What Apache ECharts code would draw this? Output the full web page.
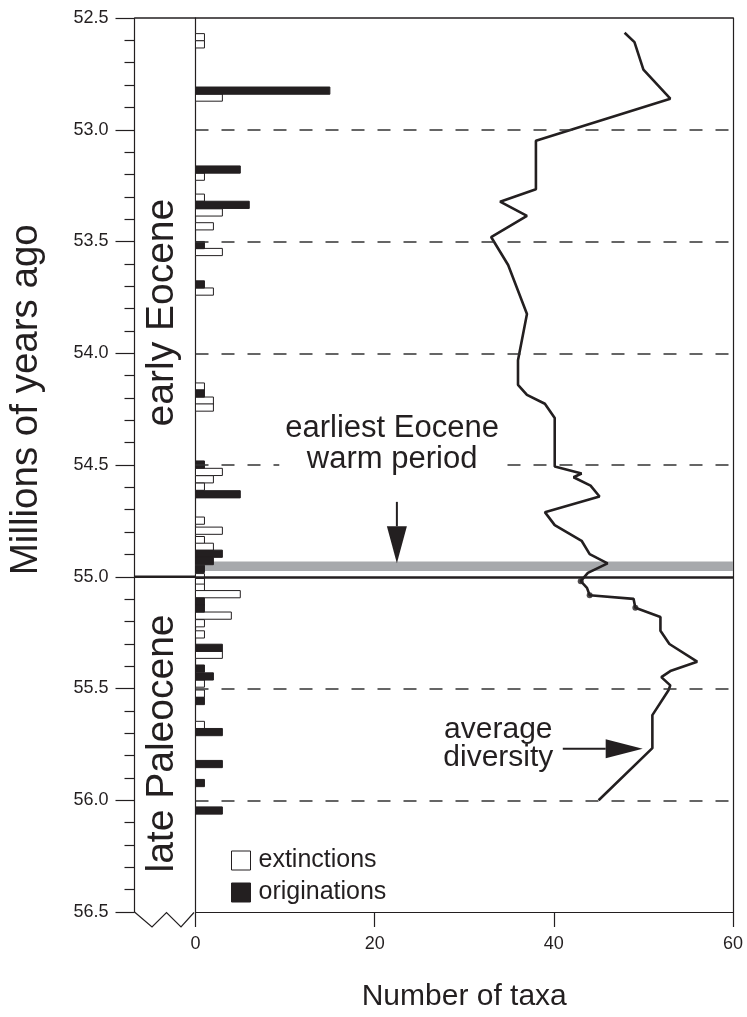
<!DOCTYPE html>
<html><head><meta charset="utf-8">
<script src="https://cdn.jsdelivr.net/npm/echarts@6/dist/echarts.min.js"></script>
<style>html,body{margin:0;padding:0;background:#fff}#c{width:747px;height:1017px}</style>
</head><body><div id="c"></div>
<script>
// ---- data (Myr ago, number of taxa) ----
const extTime  = [52.586,52.618,52.856,53.210,53.304,53.370,53.432,53.547,53.724,54.149,54.212,54.243,54.531,54.564,54.597,54.749,54.794,54.836,54.866,55.002,55.024,55.049,55.078,55.174,55.208,55.258,55.349,55.478,55.523,55.663];
const extCount = [1,1,3,1,1,3,2,3,2,1,2,2,3,2,1,1,3,1,2,1,1,1,5,4,1,1,3,1,1,1];
const origTime  = [52.825,53.178,53.336,53.516,53.692,54.180,54.498,54.631,54.897,54.930,54.965,55.111,55.142,55.318,55.411,55.446,55.556,55.695,55.838,55.923,56.046];
const origCount = [15,5,6,1,1,1,1,5,3,2,1,1,1,3,1,2,1,3,3,1,3];
const divTime = [52.566,52.608,52.731,52.861,53.049,53.266,53.322,53.385,53.480,53.605,53.824,54.031,54.141,54.186,54.226,54.290,54.507,54.538,54.555,54.592,54.641,54.711,54.769,54.839,54.899,54.940,54.983,55.020,55.050,55.083,55.099,55.139,55.180,55.242,55.301,55.380,55.422,55.449,55.486,55.508,55.619,55.767,56.000];
const divTaxa = [47.9,49.0,50.0,53.0,38.0,38.0,34.0,37.0,33.0,34.9,37.0,36.0,36.0,37.0,39.0,40.1,40.1,43.1,42.2,44.1,45.1,39.0,40.1,43.1,44.0,46.0,43.8,43.0,43.7,44.0,48.9,49.1,51.9,51.9,52.9,56.0,53.0,52.0,53.0,52.8,51.0,51.0,45.0];
const dotIdx = [27, 29, 31];
const dashedLevels = [53.0, 53.5, 54.0, 54.5, 55.5, 56.0];
const boundary = 55.0;
const warmBand = [54.932, 54.974];
const periodLabels = ['early Eocene', 'late Paleocene'];
const yRange = [52.5, 56.5];
const xRange = [0, 60];

const INK = '#231f20';
const FONT = '"Liberation Sans", Arial, Helvetica, sans-serif';
const BAR_SPAN = 0.0323;

const chart = echarts.init(document.getElementById('c'), null, {renderer: 'canvas'});

function barRender(fill) {
  return function (params, api) {
    const t = api.value(0), v = api.value(1);
    const p0 = api.coord([0, t]);
    const p1 = api.coord([v, t]);
    const h = api.size([0, BAR_SPAN])[1];
    return {
      type: 'rect',
      shape: {x: p0[0], y: p0[1] - h / 2, width: p1[0] - p0[0], height: h},
      style: {fill: fill, stroke: INK, lineWidth: 1}
    };
  };
}

const yBase = {
  type: 'value', inverse: true, min: yRange[0], max: yRange[1], interval: 0.5,
  splitLine: {show: false}
};

chart.setOption({
  animation: false,
  backgroundColor: '#fff',
  textStyle: {fontFamily: FONT, color: INK},
  grid: {left: 195.5, right: 14, top: 18, bottom: 97, containLabel: false},
  xAxis: [{
    type: 'value', min: xRange[0], max: xRange[1], interval: 20, position: 'bottom',
    axisLine: {show: true, lineStyle: {color: INK, width: 1.2}},
    axisTick: {show: true, length: 15, lineStyle: {color: INK, width: 1.2}},
    axisLabel: {fontSize: 18, color: INK, margin: 23, fontFamily: FONT},
    splitLine: {show: false},
    name: 'Number of taxa', nameLocation: 'middle', nameGap: 70,
    nameTextStyle: {fontSize: 30, color: INK, fontFamily: FONT}
  }, {
    type: 'value', min: xRange[0], max: xRange[1], position: 'top',
    axisLine: {show: true, lineStyle: {color: INK, width: 1.5}},
    axisTick: {show: false}, axisLabel: {show: false}, splitLine: {show: false}
  }],
  yAxis: [Object.assign({}, yBase, {
    position: 'left', offset: 61,
    axisLine: {show: true, onZero: false, lineStyle: {color: INK, width: 1.2}},
    axisTick: {show: true, length: 19, lineStyle: {color: INK, width: 1.2}},
    minorTick: {show: true, splitNumber: 5, length: 10, lineStyle: {color: INK, width: 1.2}},
    axisLabel: {fontSize: 18, color: INK, margin: 26, fontFamily: FONT, formatter: v => v.toFixed(1)}
  }), Object.assign({}, yBase, {
    position: 'left', offset: 0,
    axisLine: {show: true, onZero: false, lineStyle: {color: INK, width: 1.2}},
    axisTick: {show: false}, axisLabel: {show: false}
  }), Object.assign({}, yBase, {
    position: 'right', offset: 0,
    axisLine: {show: true, onZero: false, lineStyle: {color: INK, width: 1.2}},
    axisTick: {show: false}, axisLabel: {show: false}
  })],
  legend: {
    orient: 'vertical', left: 226, top: 843, itemWidth: 19, itemHeight: 19, itemGap: 7,
    icon: 'rect',
    textStyle: {fontSize: 25, color: INK, fontFamily: FONT, padding: [0, 0, 0, 3]},
    data: [
      {name: 'extinctions', itemStyle: {color: '#fff', borderColor: INK, borderWidth: 1}},
      {name: 'originations', itemStyle: {color: INK, borderColor: INK, borderWidth: 1}}
    ]
  },
  series: [{
    name: 'refs', type: 'line', data: [], silent: true, z: 1,
    markArea: {
      silent: true, itemStyle: {color: '#a7a9ac'},
      data: [[{yAxis: warmBand[0], xAxis: xRange[0]}, {yAxis: warmBand[1], xAxis: xRange[1]}]]
    },
    markLine: {
      silent: true, symbol: ['none', 'none'], label: {show: false},
      data: dashedLevels.map(v => ({yAxis: v, lineStyle: {type: [13, 13], color: '#333', width: 1.5}}))
        .concat([{yAxis: boundary, lineStyle: {type: 'solid', color: INK, width: 2.6}}])
    }
  }, {
    name: 'extinctions', type: 'custom', z: 3,
    renderItem: barRender('#fff'),
    encode: {x: 1, y: 0},
    itemStyle: {color: '#fff', borderColor: INK},
    data: extTime.map((t, i) => [t, extCount[i]])
  }, {
    name: 'originations', type: 'custom', z: 3,
    renderItem: barRender(INK),
    encode: {x: 1, y: 0},
    itemStyle: {color: INK},
    data: origTime.map((t, i) => [t, origCount[i]])
  }, {
    name: 'average diversity', type: 'line', z: 4,
    symbol: 'none', lineStyle: {color: INK, width: 2.6}, itemStyle: {color: INK},
    data: divTime.map((t, i) => [divTaxa[i], t])
  }, {
    name: 'dots', type: 'scatter', z: 5, symbolSize: 6, itemStyle: {color: INK},
    data: dotIdx.map(i => [divTaxa[i], divTime[i]])
  }]
});

// ---- annotations positioned through the axes ----
const px = (x, y) => chart.convertToPixel({xAxisIndex: 0, yAxisIndex: 0}, [x, y]);
const topY = px(0, yRange[0])[1];
const botY = px(0, yRange[1])[1];
const x0 = px(0, 55)[0];
const axisX = x0 - 61;
const bY = px(0, boundary)[1];

function arrow(tail, tip, headLen, headHalf) {
  const dx = tip[0] - tail[0], dy = tip[1] - tail[1];
  const L = Math.hypot(dx, dy), ux = dx / L, uy = dy / L;
  const bx = tip[0] - ux * headLen, by = tip[1] - uy * headLen;
  return [
    {type: 'line', z: 50, shape: {x1: tail[0], y1: tail[1], x2: bx, y2: by}, style: {stroke: INK, lineWidth: 2}},
    {type: 'polygon', z: 50, shape: {points: [[tip[0], tip[1]], [bx - uy * headHalf, by + ux * headHalf], [bx + uy * headHalf, by - ux * headHalf]]}, style: {fill: INK}}
  ];
}

const warmTxt = px(21.95, 54.405);
const avgTxt = px(33.8, 55.747);
const g = [
  {type: 'line', z: 50, shape: {x1: axisX, y1: topY, x2: x0, y2: topY}, style: {stroke: INK, lineWidth: 1.5}},
  {type: 'line', z: 50, shape: {x1: axisX, y1: bY, x2: x0, y2: bY}, style: {stroke: INK, lineWidth: 2.6}},
  {type: 'polyline', z: 50, shape: {points: [[axisX, botY], [axisX + 17.5, botY + 15], [axisX + 32, botY + 0.5], [axisX + 46.5, botY + 15], [x0 - 1.5, botY + 0.5]]}, style: {stroke: INK, lineWidth: 1.2, fill: null}},
  {type: 'text', z: 50, x: axisX + 28, y: px(0, 53.818)[1], rotation: Math.PI / 2,
   style: {text: periodLabels[0], font: '39px ' + FONT, fill: INK, align: 'center', verticalAlign: 'middle'}},
  {type: 'text', z: 50, x: axisX + 28, y: px(0, 55.746)[1], rotation: Math.PI / 2,
   style: {text: periodLabels[1], font: '39px ' + FONT, fill: INK, align: 'center', verticalAlign: 'middle'}},
  {type: 'text', z: 50, x: 26, y: px(0, 54.208)[1], rotation: Math.PI / 2,
   style: {text: 'Millions of years ago', font: '38.5px ' + FONT, fill: INK, align: 'center', verticalAlign: 'middle'}},
  {type: 'text', z: 40, x: warmTxt[0], y: warmTxt[1],
   style: {text: 'earliest Eocene\nwarm period', font: '31px ' + FONT, lineHeight: 31, fill: INK, align: 'center', verticalAlign: 'middle', backgroundColor: '#fff', padding: [0, 6]}},
  {type: 'text', z: 40, x: avgTxt[0], y: avgTxt[1],
   style: {text: 'average\ndiversity', font: '30px ' + FONT, lineHeight: 28, fill: INK, align: 'center', verticalAlign: 'middle'}}
]
.concat(arrow(px(22.48, 54.665), px(22.48, 54.94), 37, 10))
.concat(arrow(px(41.0, 55.77), px(49.92, 55.77), 37, 9.5));

chart.setOption({graphic: g});
</script>
</body></html>
